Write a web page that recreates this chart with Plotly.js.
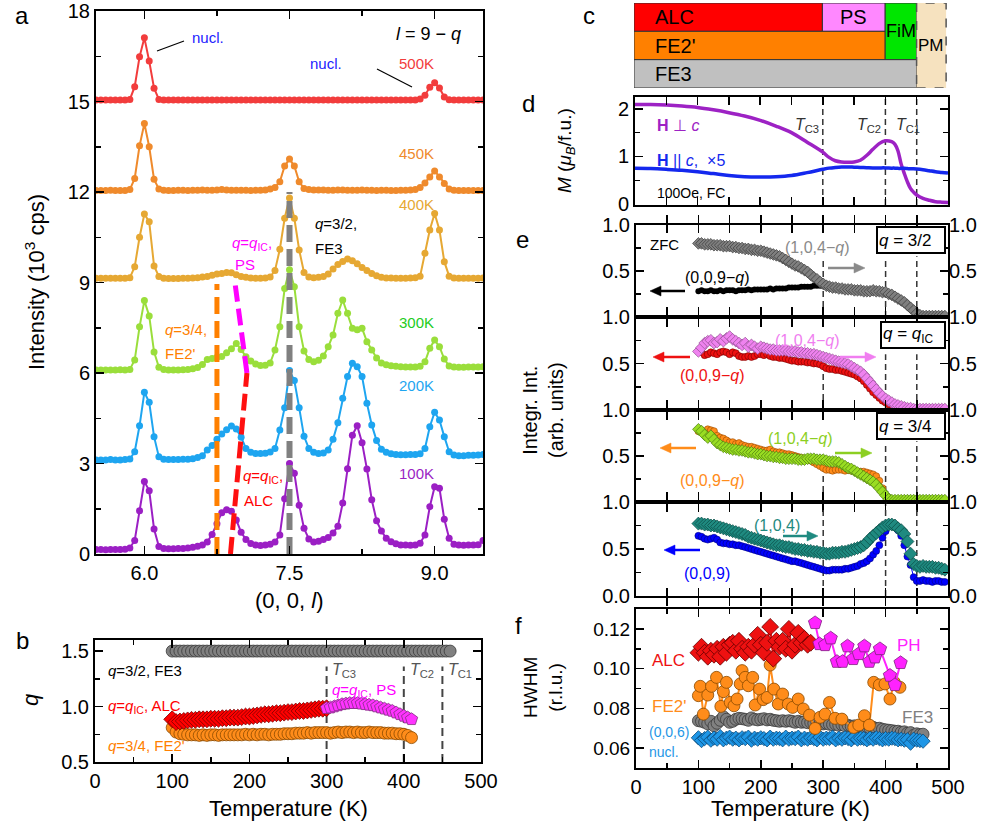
<!DOCTYPE html>
<html><head><meta charset="utf-8">
<script src="https://cdn.plot.ly/plotly-3.0.1.min.js"></script>
<style>html,body{margin:0;padding:0;background:#fff}#chart{width:1005px;height:828px}</style>
</head><body><div id="chart"></div>
<script>
// ---------------- Panel a : (0,0,l) scans ----------------
const lGrid = [5.50,5.55,5.60,5.65,5.70,5.75,5.80,5.85,5.90,5.95,
6.00,6.05,6.10,6.15,6.20,6.25,6.30,6.35,6.40,6.45,
6.50,6.55,6.60,6.65,6.70,6.75,6.80,6.85,6.90,6.95,
7.00,7.05,7.10,7.15,7.20,7.25,7.30,7.35,7.40,7.45,
7.50,7.55,7.60,7.65,7.70,7.75,7.80,7.85,7.90,7.95,
8.00,8.05,8.10,8.15,8.20,8.25,8.30,8.35,8.40,8.45,
8.50,8.55,8.60,8.65,8.70,8.75,8.80,8.85,8.90,8.95,
9.00,9.05,9.10,9.15,9.20,9.25,9.30,9.35,9.40,9.45,
9.50];
const int100K = [0.15,0.15,0.14,0.15,0.15,0.15,0.16,0.20,0.45,1.43,
2.40,2.10,0.83,0.25,0.18,0.17,0.17,0.18,0.18,0.20,
0.22,0.26,0.30,0.40,0.65,1.00,1.37,1.47,1.42,1.13,
0.72,0.48,0.35,0.30,0.28,0.30,0.32,0.40,0.63,1.83,
3.00,2.68,1.62,0.85,0.50,0.40,0.42,0.48,0.55,0.70,
0.92,1.69,2.83,3.94,4.25,3.69,2.82,1.80,1.10,0.76,
0.52,0.41,0.34,0.30,0.30,0.29,0.30,0.36,0.63,1.57,
2.23,2.18,1.15,0.52,0.32,0.30,0.29,0.30,0.30,0.31,
0.45];
const int200K = [0.12,0.12,0.12,0.13,0.12,0.12,0.13,0.15,0.39,1.25,
2.36,2.03,0.89,0.22,0.14,0.13,0.13,0.13,0.14,0.14,
0.16,0.20,0.26,0.45,0.60,0.80,0.98,1.12,1.24,1.14,
0.87,0.50,0.37,0.33,0.33,0.34,0.38,0.50,1.11,1.85,
3.08,2.75,1.85,0.90,0.50,0.37,0.33,0.35,0.45,0.80,
1.35,2.16,2.88,3.32,3.21,2.88,2.00,1.28,0.76,0.47,
0.37,0.32,0.30,0.29,0.29,0.30,0.30,0.32,0.50,1.22,
1.70,1.44,0.89,0.39,0.28,0.26,0.26,0.27,0.27,0.28,
0.30];
const int300K = [0.10,0.10,0.10,0.10,0.10,0.11,0.10,0.12,0.43,1.53,
2.40,1.89,0.70,0.19,0.12,0.10,0.10,0.10,0.11,0.12,
0.14,0.18,0.28,0.45,0.48,0.52,0.55,0.67,0.80,0.98,
0.78,0.54,0.40,0.30,0.25,0.26,0.33,0.76,1.53,2.80,
3.42,2.86,1.53,0.73,0.45,0.37,0.42,0.56,0.87,1.26,
1.98,2.42,1.98,1.48,1.43,1.48,1.04,0.76,0.50,0.33,
0.27,0.24,0.22,0.21,0.20,0.20,0.20,0.22,0.37,0.82,
1.09,0.87,0.46,0.23,0.20,0.19,0.19,0.20,0.20,0.20,
0.21];
const int400K = [0.14,0.14,0.14,0.14,0.14,0.14,0.14,0.16,0.52,1.50,
2.27,2.01,0.55,0.20,0.14,0.13,0.13,0.13,0.14,0.14,
0.15,0.16,0.18,0.20,0.24,0.28,0.30,0.33,0.32,0.26,
0.20,0.17,0.15,0.14,0.14,0.15,0.18,0.40,1.10,2.13,
2.80,2.13,1.08,0.33,0.18,0.16,0.17,0.20,0.28,0.45,
0.60,0.70,0.78,0.72,0.62,0.50,0.40,0.30,0.22,0.17,
0.15,0.15,0.14,0.14,0.14,0.15,0.16,0.21,0.97,1.74,
2.29,1.74,0.69,0.21,0.15,0.14,0.14,0.14,0.14,0.14,
0.15];
const int450K = [0.05,0.05,0.05,0.06,0.05,0.05,0.05,0.08,0.45,1.53,
2.27,1.50,0.42,0.10,0.06,0.05,0.05,0.06,0.06,0.05,
0.06,0.06,0.07,0.06,0.06,0.07,0.08,0.07,0.06,0.06,
0.06,0.06,0.05,0.06,0.06,0.07,0.10,0.15,0.34,0.86,
1.09,0.86,0.34,0.12,0.08,0.07,0.07,0.07,0.06,0.06,
0.07,0.07,0.06,0.06,0.06,0.07,0.06,0.06,0.05,0.06,
0.06,0.05,0.05,0.06,0.06,0.07,0.08,0.15,0.30,0.50,
0.70,0.50,0.28,0.10,0.06,0.05,0.05,0.05,0.05,0.05,
0.05];
const int500K = [0.05,0.05,0.05,0.05,0.05,0.05,0.05,0.07,0.49,1.48,
2.11,1.34,0.44,0.07,0.05,0.05,0.05,0.05,0.05,0.05,
0.05,0.05,0.05,0.05,0.05,0.05,0.05,0.05,0.05,0.05,
0.05,0.05,0.05,0.05,0.05,0.05,0.05,0.05,0.05,0.05,
0.05,0.05,0.05,0.05,0.05,0.05,0.05,0.05,0.05,0.05,
0.05,0.05,0.05,0.05,0.05,0.05,0.05,0.05,0.05,0.05,
0.05,0.05,0.05,0.05,0.05,0.05,0.05,0.08,0.21,0.47,
0.62,0.45,0.15,0.06,0.05,0.05,0.05,0.05,0.05,0.05,
0.05];
const scanLabels = ['100K','200K','300K','400K','450K','500K'];
const scanOffsets = [0,3,6,9,12,15];
const scanData = [int100K,int200K,int300K,int400K,int450K,int500K];
// guide lines (peak positions)
const fe2GuideL = [6.75,6.75], fe2GuideI = [0,8.95];
const alcGuideL = [6.89,6.96,7.02,7.06], alcGuideI = [0,2.4,4.6,6.0];
const psGuideL = [7.06,7.02,6.98,6.94], psGuideI = [6.0,7.0,8.0,8.9];
const fe3GuideL = [7.5,7.5], fe3GuideI = [0,12.0];

// ---------------- Temperature grid ----------------
const T5 = [100,105,110,115,120,125,130,135,140,145,
150,155,160,165,170,175,180,185,190,195,
200,205,210,215,220,225,230,235,240,245,
250,255,260,265,270,275,280,285,290,295,
300,305,310,315,320,325,330,335,340,345,
350,355,360,365,370,375,380,385,390,395,
400,405,410,415,420,425,430,435,440,445,
450,455,460,465,470,475,480,485,490,495];
const Tc = [300,400,450];        // T_C3, T_C2, T_C1
const TcNames = ['C3','C2','C1'];

// ---------------- Panel b : q vs T ----------------
const qFE3 = [1.5,1.5,1.5,1.5,1.5,1.5,1.5,1.5,1.5,1.5,
1.5,1.5,1.5,1.5,1.5,1.5,1.5,1.5,1.5,1.5,
1.5,1.5,1.5,1.5,1.5,1.5,1.5,1.5,1.5,1.5,
1.5,1.5,1.5,1.5,1.5,1.5,1.5,1.5,1.5,1.5,
1.5,1.5,1.5,1.5,1.5,1.5,1.5,1.5,1.5,1.5,
1.5,1.5,1.5,1.5,1.5,1.5,1.5,1.5,1.5,1.5,
1.5,1.5,1.5,1.5,1.5,1.5,1.5,1.5,1.5,1.5,
1.5,1.5,1.5];                                   // 100..460
const qFE2 = [0.81,0.77,0.755,0.75,0.745,0.745,0.745,0.74,0.745,0.74,
0.745,0.745,0.74,0.745,0.745,0.745,0.745,0.745,0.745,0.75,
0.745,0.75,0.745,0.75,0.75,0.745,0.75,0.75,0.75,0.755,
0.755,0.755,0.76,0.76,0.76,0.765,0.76,0.765,0.765,0.765,
0.765,0.76,0.765,0.77,0.765,0.77,0.77,0.765,0.77,0.765,
0.765,0.77,0.765,0.765,0.765,0.76,0.76,0.76,0.755,0.755,
0.75,0.74,0.72];                               // 100..410
const qALC = [0.885,0.86,0.865,0.87,0.875,0.88,0.88,0.885,0.885,0.885,
0.89,0.89,0.89,0.895,0.895,0.9,0.9,0.9,0.905,0.91,
0.91,0.915,0.92,0.925,0.93,0.93,0.935,0.94,0.94,0.945,
0.95,0.95,0.955,0.96,0.96,0.965,0.97,0.975,0.98,0.98,
0.985];                                         // 100..300
const qPS = [0.985,0.99,1.0,1.01,1.02,1.025,1.03,1.03,1.03,1.025,
1.02,1.015,1.01,1.0,0.99,0.98,0.97,0.96,0.945,0.93,
0.915,0.9,0.885];                               // 300..410

// ---------------- Panel c : phase diagram ----------------
const phaseNames = ['ALC','PS',"FE2'",'FiM','FE3','PM'];
const phaseT0 = [0,300,0,400,0,450];
const phaseT1 = [300,400,400,450,450,497];
const phaseRow0 = [2,2,1,1,0,0];
const phaseRow1 = [3,3,2,3,1,3];
const phaseColors = ['#ff0000','#ff88ff','#ff8000','#00e600','#c0c0c0','#f6e2bf'];

// ---------------- Panel d : magnetization ----------------
const Td = [0,25,50,75,100,125,150,175,200,225,250,275,300,310,320,330,340,350,360,370,380,390,400,410,415,420,425,430,435,440,445,450,460,470,480,490,500];
const Mperp = [2.09,2.09,2.08,2.06,2.03,1.98,1.92,1.85,1.76,1.64,1.50,1.30,1.09,0.98,0.91,0.885,0.88,0.885,0.92,1.02,1.15,1.27,1.33,1.31,1.26,1.12,0.85,0.65,0.47,0.33,0.25,0.19,0.12,0.08,0.05,0.04,0.035];
const Mpar = [0.75,0.745,0.73,0.71,0.68,0.64,0.60,0.575,0.57,0.575,0.60,0.66,0.73,0.755,0.77,0.78,0.78,0.775,0.77,0.765,0.76,0.76,0.76,0.755,0.755,0.75,0.75,0.75,0.745,0.74,0.74,0.735,0.72,0.70,0.68,0.665,0.65];

// ---------------- Panel e : integrated intensities ----------------
const e1_009 = [0.28,0.29,0.28,0.28,0.29,0.28,0.28,0.29,0.28,0.29,
0.29,0.29,0.28,0.29,0.29,0.29,0.30,0.29,0.30,0.30,
0.30,0.30,0.30,0.31,0.30,0.31,0.31,0.31,0.31,0.32,
0.32,0.32,0.32,0.33,0.33,0.33,0.33,0.34,0.34,0.34,
0.34,0.33,0.32,0.31,0.31,0.30,0.30,0.29,0.29,0.29,
0.28,0.28,0.28,0.27,0.27,0.27,0.27,0.27,0.26,0.26,
0.25,0.24,0.23,0.21,0.19,0.17,0.15,0.12,0.09,0.06,
0.03,0.01,0.01,0.01,0.01,0.01,0.01,0.01,0.01,0.01];
const e1_104 = [0.80,0.80,0.79,0.79,0.79,0.78,0.78,0.78,0.77,0.77,
0.77,0.76,0.76,0.75,0.75,0.74,0.74,0.73,0.73,0.72,
0.72,0.71,0.70,0.69,0.68,0.67,0.66,0.64,0.62,0.60,
0.58,0.56,0.55,0.53,0.51,0.49,0.46,0.43,0.41,0.38,
0.36,0.34,0.33,0.32,0.32,0.31,0.31,0.30,0.30,0.30,
0.29,0.29,0.29,0.28,0.28,0.28,0.29,0.28,0.28,0.27,
0.27,0.25,0.24,0.22,0.20,0.18,0.16,0.13,0.10,0.07,
0.04,0.02,0.01,0.01,0.01,0.01,0.01,0.01,0.01,0.01];
const e2_009 = [0.63,0.62,0.59,0.60,0.62,0.61,0.60,0.62,0.63,0.62,
0.60,0.62,0.61,0.58,0.57,0.57,0.58,0.57,0.58,0.60,
0.60,0.59,0.60,0.58,0.57,0.57,0.56,0.56,0.55,0.54,
0.53,0.53,0.52,0.52,0.52,0.51,0.51,0.50,0.50,0.49,
0.47,0.45,0.44,0.44,0.43,0.43,0.42,0.41,0.40,0.39,
0.38,0.36,0.34,0.31,0.27,0.23,0.19,0.16,0.13,0.10,
0.08,0.06,0.05,0.04,0.03,0.03,0.02,0.02,0.01,0.01,
0.01,0.01,0.01,0.01,0.01,0.01,0.01,0.01,0.01,0.01];
const e2_104 = [0.63,0.67,0.72,0.74,0.75,0.72,0.73,0.76,0.74,0.77,
0.79,0.76,0.74,0.72,0.70,0.72,0.68,0.70,0.68,0.66,
0.68,0.67,0.66,0.65,0.65,0.64,0.64,0.64,0.64,0.63,
0.63,0.63,0.62,0.62,0.61,0.61,0.60,0.60,0.59,0.58,
0.57,0.56,0.55,0.54,0.53,0.52,0.51,0.50,0.49,0.47,
0.45,0.43,0.41,0.38,0.34,0.30,0.26,0.22,0.18,0.15,
0.12,0.10,0.08,0.06,0.05,0.04,0.03,0.02,0.02,0.01,
0.01,0.01,0.01,0.01,0.01,0.01,0.01,0.01,0.01,0.01];
const e3_009 = [0.77,0.78,0.76,0.79,0.78,0.77,0.72,0.70,0.69,0.67,
0.65,0.65,0.63,0.64,0.62,0.61,0.60,0.60,0.59,0.58,
0.57,0.56,0.56,0.57,0.55,0.54,0.54,0.53,0.52,0.52,
0.51,0.50,0.49,0.48,0.47,0.46,0.45,0.43,0.41,0.39,
0.37,0.35,0.35,0.34,0.35,0.35,0.35,0.34,0.35,0.34,
0.34,0.33,0.33,0.33,0.32,0.31,0.30,0.28,0.23,0.15,
0.07,0.03,0.02,0.02,0.02,0.02,0.02,0.02,0.02,0.02,
0.02,0.02,0.02,0.02,0.02,0.02,0.02,0.02,0.02,0.02];
const e3_104 = [0.79,0.77,0.73,0.70,0.72,0.68,0.64,0.62,0.60,0.59,
0.58,0.57,0.57,0.56,0.56,0.55,0.54,0.54,0.53,0.52,
0.52,0.51,0.50,0.50,0.49,0.49,0.48,0.48,0.47,0.47,
0.47,0.47,0.46,0.46,0.46,0.47,0.47,0.47,0.46,0.46,
0.46,0.45,0.44,0.44,0.44,0.43,0.41,0.39,0.37,0.36,
0.34,0.32,0.30,0.28,0.26,0.24,0.22,0.19,0.15,0.11,
0.07,0.03,0.02,0.02,0.02,0.02,0.02,0.02,0.02,0.02,
0.02,0.02,0.02,0.02,0.02,0.02,0.02,0.02,0.02,0.02];
const e4_009 = [0.64,0.63,0.61,0.60,0.61,0.62,0.60,0.57,0.56,0.56,
0.55,0.55,0.54,0.54,0.53,0.52,0.51,0.50,0.49,0.48,
0.47,0.46,0.45,0.44,0.43,0.42,0.41,0.40,0.39,0.38,
0.37,0.37,0.36,0.35,0.34,0.33,0.32,0.31,0.30,0.29,
0.28,0.27,0.27,0.28,0.28,0.28,0.28,0.29,0.29,0.30,
0.31,0.32,0.34,0.35,0.37,0.40,0.44,0.48,0.54,0.62,
0.69,0.74,0.75,0.75,0.70,0.64,0.54,0.42,0.33,0.20,
0.16,0.16,0.17,0.16,0.16,0.15,0.16,0.16,0.15,0.15];
const e4_104 = [0.77,0.77,0.76,0.76,0.75,0.75,0.74,0.73,0.72,0.71,
0.70,0.69,0.68,0.67,0.66,0.65,0.63,0.62,0.61,0.60,
0.59,0.58,0.57,0.56,0.55,0.54,0.54,0.53,0.52,0.52,
0.51,0.50,0.50,0.49,0.49,0.48,0.48,0.47,0.47,0.46,
0.46,0.45,0.45,0.46,0.46,0.46,0.47,0.47,0.48,0.49,
0.50,0.51,0.52,0.54,0.57,0.61,0.64,0.67,0.70,0.73,
0.75,0.76,0.76,0.75,0.72,0.70,0.66,0.58,0.45,0.34,
0.32,0.31,0.32,0.31,0.31,0.31,0.30,0.30,0.29,0.28];

// ---------------- Panel f : HWHM ----------------
const hwALC = [0.108,0.111,0.108,0.106,0.109,0.107,0.110,0.106,0.111,0.108,
0.112,0.113,0.109,0.114,0.110,0.108,0.111,0.109,0.112,0.117,
0.112,0.108,0.113,0.121,0.105,0.114,0.111,0.114,0.110,0.120,
0.109,0.112,0.118,0.113,0.115,0.112,0.113];     // 100..280
const T_PH = [287,294,303,312,322,331,339,348,357,366,374,383,391,407,415,424];
const hwPH = [0.123,0.1124,0.1119,0.1153,0.1035,0.1035,0.1113,0.1049,0.1074,0.1113,0.1035,0.1057,0.1099,0.0965,0.0918,0.1029];
const T_FE2f = [100,103,108,115,121,129,136,140,145,151,157,162,167,170,175,180,187,191,198,204,210,215,221,228,235,244,251,260,268,278,287,295,303,310,319,330,349,357,366,374,381,390,399,407,414,423];
const hwFE2 = [0.0864,0.0911,0.0771,0.0867,0.0911,0.0956,0.081,0.0884,0.0931,0.083,0.0813,0.0847,0.0923,0.099,0.0956,0.0914,0.0956,0.0817,0.0897,0.0844,0.0855,0.1018,0.0897,0.0822,0.0872,0.0822,0.0805,0.0847,0.0797,0.0766,0.0699,0.0755,0.0771,0.083,0.075,0.0746,0.0704,0.0716,0.0763,0.0716,0.0931,0.0918,0.0923,0.0847,0.0931,0.0906];
const hwFE3 = [0.0738,0.0735,0.0730,0.0722,0.0735,0.0712,0.0725,0.0740,0.0758,0.0745,
0.0730,0.0735,0.0745,0.0750,0.0748,0.0745,0.0740,0.0752,0.0745,0.0742,
0.0745,0.0748,0.0742,0.0745,0.0740,0.0738,0.0735,0.0738,0.0735,0.0738,
0.0735,0.0730,0.0735,0.0730,0.0732,0.0728,0.0730,0.0725,0.0728,0.0725,
0.0722,0.0725,0.0720,0.0718,0.0720,0.0715,0.0718,0.0712,0.0715,0.0710,
0.0712,0.0708,0.0710,0.0705,0.0708,0.0700,0.0705,0.0698,0.0700,0.0695,
0.0692,0.0690,0.0688,0.0685,0.0685,0.0680,0.0682,0.0675,0.0678,0.0665,
0.0672,0.0668,0.0670];                          // 100..460
const hwNucl = [0.0652,0.0638,0.0648,0.0655,0.0640,0.0650,0.0645,0.0658,0.0642,0.0650,
0.0655,0.0645,0.0650,0.0642,0.0652,0.0648,0.0655,0.0640,0.0650,0.0645,
0.0652,0.0648,0.0642,0.0655,0.0645,0.0650,0.0648,0.0642,0.0655,0.0645,
0.0650,0.0648,0.0655,0.0642,0.0650,0.0645,0.0652,0.0648,0.0642,0.0655,
0.0645,0.0650,0.0648,0.0655,0.0642,0.0650,0.0645,0.0652,0.0648,0.0642,
0.0655,0.0645,0.0650,0.0648,0.0642,0.0650,0.0645,0.0652,0.0648,0.0642,
0.0648,0.0645,0.0650,0.0648,0.0642,0.0645,0.0640,0.0642,0.0625,0.0645,
0.0640,0.0638,0.0635];                          // 100..460

// ================= drawing =================
const W = 1005, H = 828;
const FONT = 'Liberation Sans, Arial, Helvetica, sans-serif';
const dx = (a,b) => [a/W, b/W];
const dy = (t,b) => [1-b/H, 1-t/H];
const MINOR = {ticks:'inside', ticklen:5, tickwidth:1.5, tickcolor:'#000', showgrid:false};
function axis(extra){
  return Object.assign({showgrid:false, zeroline:false, showline:true, linecolor:'#000', linewidth:2,
    mirror:'allticks', ticks:'inside', ticklen:8, tickwidth:1.5, tickcolor:'#000',
    tickfont:{family:FONT,size:20,color:'#000'}, fixedrange:true, automargin:false}, extra);
}
function txt(x,y,text,o){
  o = o||{};
  return Object.assign({xref:'paper',yref:'paper',x:x/W,y:1-y/H,text:text,showarrow:false,
    xanchor:o.anchor||'left',yanchor:'middle',textangle:o.angle||0,align:o.align||'left',
    font:{family:FONT,size:o.size||15,color:o.color||'#000'}}, o.extra||{});
}
const traces = [];
const shapes = [];
const ann = [];
// horizontal arrow drawn as a line plus a filled head (pixel positions -> paper)
function arrow(x0,y0,x1,y1,color){
  const d = Math.sign(x1-x0), hl = 11, hw = 5;
  shapes.push({type:'line',xref:'paper',yref:'paper',x0:x0/W,y0:1-y0/H,x1:(x1-d*hl+d)/W,y1:1-y1/H,line:{color:color,width:2.5}});
  const p = (x,y)=>(x/W)+','+(1-y/H);
  shapes.push({type:'path',xref:'paper',yref:'paper',path:'M'+p(x1,y1)+' L'+p(x1-d*hl,y1-hw)+' L'+p(x1-d*hl,y1+hw)+' Z',
    fillcolor:color,line:{color:color,width:0.5}});
}

// ---- panel a
const scanColors = ['#9b1fc4','#1ea5f0','#9ade3b','#e6a833','#ef8a2c','#f23c3c'];
const scanLabelColors = ['#9b1fc4','#1ea5f0','#22cc22','#e6a833','#ef8a2c','#f23c3c'];
const scanLabelY = [473,385,323,204,154,63];
for (let k = scanData.length-1; k >= 0; k--) {
  traces.push({type:'scatter',mode:'lines+markers',x:lGrid,y:scanData[k].map(v=>v+scanOffsets[k]),
    xaxis:'x',yaxis:'y',line:{color:scanColors[k],width:2},marker:{color:scanColors[k],size:7},hoverinfo:'skip'});
  ann.push(txt(436,scanLabelY[k],scanLabels[k],{anchor:'right',color:scanLabelColors[k],size:15}));
}
const guide = (lx,ly,c,w) => ({type:'scatter',mode:'lines',x:lx,y:ly,xaxis:'x',yaxis:'y',
  line:{color:c,width:w,dash:'17px,7px'},hoverinfo:'skip'});
traces.push(guide(fe2GuideL,fe2GuideI,'#ff8000',5));
traces.push(guide(alcGuideL,alcGuideI,'#ff1010',5));
traces.push(guide(psGuideL,psGuideI,'#ff00ff',5));
traces.push(guide(fe3GuideL,fe3GuideI,'#808080',6));

ann.push(txt(22,16,'a',{anchor:'center',size:24}));
ann.push(txt(35,282,'Intensity (10<sup>3</sup> cps)',{anchor:'center',angle:-90,size:22}));
ann.push(txt(289,600,'(0, 0, <i>l</i>)',{anchor:'center',size:22}));
ann.push(txt(190,38,'nucl.',{color:'#2222ff',size:15}));
ann.push(txt(308,63,'nucl.',{color:'#2222ff',size:15}));
ann.push(txt(463,34,'<i>l</i> = 9 − <i>q</i>',{anchor:'right',size:18}));
ann.push(txt(313,224,'<i>q</i>=3/2,',{size:15}));
ann.push(txt(313,248,'FE3',{size:15}));
ann.push(txt(230,244,'<i>q</i>=<i>q</i><sub>IC</sub>,',{size:15,color:'#ff00ff'}));
ann.push(txt(233,264,'PS',{size:15,color:'#ff00ff'}));
ann.push(txt(163,329,'<i>q</i>=3/4,',{size:15,color:'#ff8000'}));
ann.push(txt(163,353,"FE2'",{size:15,color:'#ff8000'}));
ann.push(txt(241,476,'<i>q</i>=<i>q</i><sub>IC</sub>,',{size:15,color:'#ff0000'}));
ann.push(txt(242,500,'ALC',{size:15,color:'#ff0000'}));
shapes.push({type:'line',xref:'paper',yref:'paper',x0:157/W,y0:1-51/H,x1:184/W,y1:1-41/H,line:{color:'#000',width:1.2}});
shapes.push({type:'line',xref:'paper',yref:'paper',x0:377/W,y0:1-69/H,x1:412/W,y1:1-87/H,line:{color:'#000',width:1.2}});

// ---- panel b
const mk = (sym,c,s,lc) => ({symbol:sym,color:c,size:s,line:{color:lc||'#3a3a3a',width:0.8}});
traces.push({type:'scatter',mode:'markers',x:T5.slice(0,73),y:qFE3,xaxis:'x2',yaxis:'y2',marker:mk('circle','#808080',12),hoverinfo:'skip'});
traces.push({type:'scatter',mode:'markers',x:T5.slice(0,63),y:qFE2,xaxis:'x2',yaxis:'y2',marker:mk('circle','#ff8c1a',12,'#8a4a00'),hoverinfo:'skip'});
traces.push({type:'scatter',mode:'markers',x:T5.slice(0,41),y:qALC,xaxis:'x2',yaxis:'y2',marker:mk('diamond','#ff0000',13,'#700'),hoverinfo:'skip'});
traces.push({type:'scatter',mode:'markers',x:T5.slice(40,63),y:qPS,xaxis:'x2',yaxis:'y2',marker:mk('pentagon','#ff33ff',13,'#803080'),hoverinfo:'skip'});
Tc.forEach((t,i)=>{
  shapes.push({type:'line',xref:'x2',yref:'y2',x0:t,x1:t,y0:0.5,y1:1.36,layer:'below',line:{color:'#444',width:2,dash:'8px,5px'}});
  ann.push(Object.assign(txt(0,670,'<i>T</i><sub>'+TcNames[i]+'</sub>',{size:16,color:'#555'}),{xref:'x2',x:t+5}));
});
ann.push(txt(22,640,'b',{anchor:'center',size:24}));
ann.push(txt(30,700,'<i>q</i>',{anchor:'center',angle:-90,size:22}));
ann.push(txt(288,808,'Temperature (K)',{anchor:'center',size:22}));
ann.push(txt(106,670,'<i>q</i>=3/2, FE3',{size:15}));
ann.push(txt(106,706,'<i>q</i>=<i>q</i><sub>IC</sub>, ALC',{size:15,color:'#ff0000'}));
ann.push(txt(106,745,"<i>q</i>=3/4, FE2'",{size:15,color:'#ff8000'}));
ann.push(txt(330,690,'<i>q</i>=<i>q</i><sub>IC</sub>, PS',{size:15,color:'#ff00ff'}));

// ---- panel c
const phaseLabelCenter = [false,true,false,true,false,true];
const phaseFont = [20,20,20,18,20,17];
phaseNames.forEach((n,i)=>{
  const pm = (n==='PM');
  shapes.push({type:'rect',xref:'x3',yref:'y3',x0:phaseT0[i],x1:phaseT1[i],y0:phaseRow0[i],y1:phaseRow1[i],
    fillcolor:phaseColors[i],line:{color:pm?'#555':'#333',width:pm?1.5:1,dash:pm?'dash':'solid'},layer:'above'});
  ann.push({xref:'x3',yref:'y3',x:phaseLabelCenter[i]?(phaseT0[i]+phaseT1[i])/2:phaseT0[i]+30,
    y:(phaseRow0[i]+phaseRow1[i])/2,text:n,showarrow:false,
    xanchor:phaseLabelCenter[i]?'center':'left',yanchor:'middle',font:{family:FONT,size:phaseFont[i],color:'#000'}});
});
traces.push({type:'scatter',mode:'markers',x:[0],y:[0],xaxis:'x3',yaxis:'y3',marker:{opacity:0},hoverinfo:'skip'});
ann.push(txt(589,16,'c',{anchor:'center',size:24}));

// ---- panel d
traces.push({type:'scatter',mode:'lines',x:Td,y:Mperp,xaxis:'x4',yaxis:'y4',line:{color:'#9d22c4',width:3.5,shape:'spline'},hoverinfo:'skip'});
traces.push({type:'scatter',mode:'lines',x:Td,y:Mpar,xaxis:'x4',yaxis:'y4',line:{color:'#1428ee',width:3.5,shape:'spline'},hoverinfo:'skip'});
Tc.forEach(t=>shapes.push({type:'line',xref:'x4',yref:'y4 domain',x0:t,x1:t,y0:0,y1:1,layer:'below',line:{color:'#333',width:1.5,dash:'6px,4px'}}));
ann.push(txt(821,125,'<i>T</i><sub>C3</sub>',{anchor:'right',size:16,color:'#333'}));
ann.push(txt(883,125,'<i>T</i><sub>C2</sub>',{anchor:'right',size:16,color:'#333'}));
ann.push(txt(894,125,'<i>T</i><sub>C1</sub>',{size:16,color:'#333'}));
ann.push(txt(655,125,'<b>H</b> ⊥ <i>c</i>',{size:16,color:'#9d22c4'}));
ann.push(txt(655,161,'<b>H</b> || <i>c</i>,  ×5',{size:16,color:'#1428ee'}));
ann.push(txt(655,193,'100Oe, FC',{size:14}));
ann.push(txt(528,103,'d',{anchor:'center',size:24}));
ann.push(txt(566,151,'<i>M</i> (<i>μ</i><sub><i>B</i></sub>/f.u.)',{anchor:'center',angle:-90,size:19}));

// ---- panel e
const eDomains = [dy(225,317),dy(317,410),dy(410,502),dy(502,596)];
const eLeft = [e1_009,e2_009,e3_009,e4_009];
const eRight = [e1_104,e2_104,e3_104,e4_104];
const eLeftStyle = [
  {symbol:'circle',color:'#000000',size:6,line:{color:'#000',width:0}},
  {symbol:'circle',color:'#ee1111',size:7,line:{color:'#700',width:0.6}},
  {symbol:'circle',color:'#ff8c1a',size:7,line:{color:'#9a4a00',width:0.6}},
  {symbol:'circle',color:'#0000ff',size:7,line:{color:'#000080',width:0.6}}];
const eRightStyle = [
  {symbol:'diamond',color:'#7f7f7f',size:9,line:{color:'#3a3a3a',width:0.7}},
  {symbol:'diamond',color:'#ef82ef',size:9,line:{color:'#905090',width:0.7}},
  {symbol:'diamond',color:'#99dd22',size:9,line:{color:'#4a7a10',width:0.7}},
  {symbol:'diamond',color:'#1f8a80',size:10,line:{color:'#0a4a44',width:0.7}}];
const eLineTop = [[0.65,0.65,0.66],[0.5,0.6,0.6],[0.45,0.64,0.66],[1,1,1]];
const layoutE = {};
for (let i=0;i<4;i++){
  const xa = 'x'+(5+i), ya = 'y'+(5+i), yr = 'y'+(9+i);
  const bottom = (i===3);
  const tv = bottom?[0,0.5,1]:[0.5,1], tt = bottom?['0.0','0.5','1.0']:['0.5','1.0'];
  layoutE['xaxis'+(5+i)] = axis({domain:dx(636,948),anchor:ya,range:[0,500],dtick:50,showticklabels:false});
  layoutE['yaxis'+(5+i)] = axis({domain:eDomains[i],anchor:xa,range:[0,1],tickmode:'array',tickvals:tv,ticktext:tt,
    minor:Object.assign({dtick:0.25,tick0:0},MINOR)});
  layoutE['yaxis'+(9+i)] = axis({overlaying:ya,side:'right',anchor:xa,range:[0,1],tickmode:'array',tickvals:tv,ticktext:tt,
    ticks:'',showline:false,mirror:false});
  traces.push({type:'scatter',mode:'lines+markers',x:T5,y:eLeft[i],xaxis:xa,yaxis:ya,
    line:{color:eLeftStyle[i].color,width:1},marker:eLeftStyle[i],hoverinfo:'skip'});
  traces.push({type:'scatter',mode:'lines+markers',x:T5,y:eRight[i],xaxis:xa,yaxis:yr,
    line:{color:eRightStyle[i].color,width:1},marker:eRightStyle[i],hoverinfo:'skip'});
  Tc.forEach((t,j)=>shapes.push({type:'line',xref:xa,yref:ya,x0:t,x1:t,y0:0,y1:eLineTop[i][j],layer:'below',
    line:{color:'#333',width:1.5,dash:'6px,4px'}}));
}
ann.push(txt(522,240,'e',{anchor:'center',size:24}));
ann.push(txt(543,410,'Integr. Int.<br>(arb. units)',{anchor:'center',angle:-90,size:20,align:'center'}));
ann.push(txt(648,245,'ZFC',{size:15}));
ann.push(txt(783,247,'(1,0,4−<i>q</i>)',{size:16,color:'#8a8a8a'}));
ann.push(txt(683,278,'(0,0,9−<i>q</i>)',{size:16}));
ann.push(txt(773,340,'(1,0,4−<i>q</i>)',{size:16,color:'#f07ef0'}));
ann.push(txt(678,375,'(0,0,9−<i>q</i>)',{size:16,color:'#ee1111'}));
ann.push(txt(766,438,'(1,0,4−<i>q</i>)',{size:16,color:'#8ccf22'}));
ann.push(txt(678,480,'(0,0,9−<i>q</i>)',{size:16,color:'#ff8c1a'}));
ann.push(txt(752,525,'(1,0,4)',{size:16,color:'#1f8a80'}));
ann.push(txt(682,573,'(0,0,9)',{size:16,color:'#0000ff'}));
const boxOpt = {bordercolor:'#000',borderwidth:2,borderpad:1,bgcolor:'#fff',width:64,height:22};
ann.push(txt(911,240,'<i>q</i> = 3/2',{anchor:'center',size:17,extra:boxOpt}));
ann.push(txt(913,335,'<i>q</i> = <i>q</i><sub>IC</sub>',{anchor:'center',size:17,extra:Object.assign({},boxOpt,{width:60})}));
ann.push(txt(911,426,'<i>q</i> = 3/4',{anchor:'center',size:17,extra:boxOpt}));
arrow(828,268,865,268,'#8a8a8a');
arrow(685,291,650,291,'#000');
arrow(840,357,876,357,'#f07ef0');
arrow(690,357,653,357,'#ee1111');
arrow(696,448,660,448,'#ff8c1a');
arrow(835,453,872,453,'#8ccf22');
arrow(783,536,818,536,'#1f8a80');
arrow(700,550,664,550,'#0000ff');

// ---- panel f
traces.push({type:'scatter',mode:'markers',x:T5.slice(0,73),y:hwFE3,xaxis:'x9',yaxis:'y13',marker:mk('circle','#808080',12),hoverinfo:'skip'});
traces.push({type:'scatter',mode:'markers',x:T5.slice(0,73),y:hwNucl,xaxis:'x9',yaxis:'y13',marker:mk('diamond','#1e96e6',11,'#0a4a7a'),hoverinfo:'skip'});
traces.push({type:'scatter',mode:'lines+markers',x:T_FE2f,y:hwFE2,xaxis:'x9',yaxis:'y13',line:{color:'#ff8c1a',width:2},marker:mk('circle','#ff8c1a',12,'#8a4a00'),hoverinfo:'skip'});
traces.push({type:'scatter',mode:'lines+markers',x:T5.slice(0,37),y:hwALC,xaxis:'x9',yaxis:'y13',line:{color:'#ee1111',width:2},marker:mk('diamond','#ee1111',13,'#600'),hoverinfo:'skip'});
traces.push({type:'scatter',mode:'lines+markers',x:T_PH,y:hwPH,xaxis:'x9',yaxis:'y13',line:{color:'#ff22ff',width:2},marker:mk('pentagon','#ff22ff',14,'#802080'),hoverinfo:'skip'});
ann.push(txt(518,625,'f',{anchor:'center',size:24}));
ann.push(txt(543,688,'HWHM<br>(r.l.u.)',{anchor:'center',angle:-90,size:19,align:'center'}));
ann.push(txt(790,808,'Temperature (K)',{anchor:'center',size:22}));
ann.push(txt(650,660,'ALC',{size:17,color:'#ee1111'}));
ann.push(txt(895,645,'PH',{size:17,color:'#ff22ff'}));
ann.push(txt(650,706,"FE2'",{size:17,color:'#ff8c1a'}));
ann.push(txt(900,717,'FE3',{size:17,color:'#808080'}));
ann.push(txt(647,732,'(0,0,6)',{size:14,color:'#1e96e6'}));
ann.push(txt(647,752,'nucl.',{size:14,color:'#1e96e6'}));

const layout = Object.assign({
  width:W, height:H, margin:{l:0,r:0,t:0,b:0}, paper_bgcolor:'#fff', plot_bgcolor:'rgba(0,0,0,0)',
  showlegend:false, font:{family:FONT,size:16,color:'#000'},
  xaxis: axis({domain:dx(96,483),anchor:'y',range:[5.5,9.5],tick0:6,dtick:1.5,tickformat:'.1f',minor:Object.assign({tick0:6,dtick:0.75},MINOR)}),
  yaxis: axis({domain:dy(11,554),anchor:'x',range:[0,18],dtick:3,minor:Object.assign({dtick:1.5},MINOR)}),
  xaxis2: axis({domain:dx(95,481),anchor:'y2',range:[0,500],dtick:100,minor:Object.assign({dtick:50},MINOR)}),
  yaxis2: axis({domain:dy(640,762),anchor:'x2',range:[0.5,1.6],tick0:0.5,dtick:0.5,tickformat:'.1f',minor:Object.assign({tick0:0.5,dtick:0.25},MINOR)}),
  xaxis3: {domain:dx(634,948),anchor:'y3',range:[0,500],visible:false,fixedrange:true},
  yaxis3: {domain:dy(3,88),anchor:'x3',range:[0,3],visible:false,fixedrange:true},
  xaxis4: axis({domain:dx(635,948),anchor:'y4',range:[0,500],dtick:50,showticklabels:false}),
  yaxis4: axis({domain:dy(97,205),anchor:'x4',range:[-0.02,2.25],tick0:0,dtick:1,minor:Object.assign({tick0:0,dtick:0.5},MINOR)}),
  xaxis9: axis({domain:dx(636,948),anchor:'y13',range:[0,500],dtick:100,minor:Object.assign({dtick:50},MINOR)}),
  yaxis13: axis({domain:dy(609,768),anchor:'x9',range:[0.05,0.13],tick0:0.06,dtick:0.02,tickformat:'.2f',
    tickfont:{family:FONT,size:19,color:'#000'},minor:Object.assign({tick0:0.05,dtick:0.01},MINOR)}),
  shapes: shapes, annotations: ann
}, layoutE);

Plotly.newPlot('chart', traces, layout, {staticPlot:true, displayModeBar:false});
</script></body></html>
